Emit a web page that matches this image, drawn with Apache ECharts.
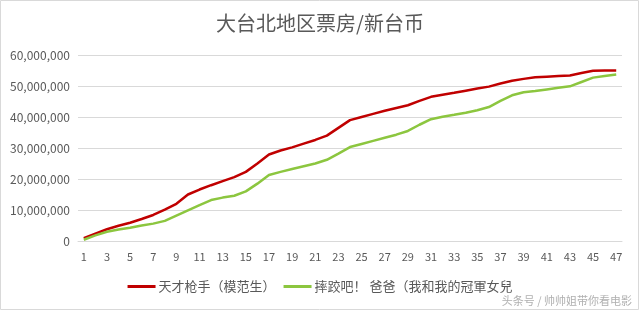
<!DOCTYPE html>
<html><head><meta charset="utf-8">
<script src="https://cdn.jsdelivr.net/npm/echarts@6/dist/echarts.min.js"></script>
<style>html,body{margin:0;padding:0;background:#fff}#c{width:640px;height:311px}</style>
</head><body><div id="c"></div>
<script>
var categories = [];
for (var i = 1; i <= 47; i++) categories.push(String(i));
var seriesNames = ['天才枪手（模范生）', '摔跤吧！ 爸爸（我和我的冠軍女兒'];
var redValues = [0.9,2.4,3.8,4.9,5.9,7.1,8.4,10.1,12.0,15.0,16.6,18.0,19.3,20.6,22.3,25.0,27.9,29.2,30.2,31.4,32.6,34.0,36.5,39.0,40.0,41.0,42.0,42.9,43.8,45.2,46.5,47.2,47.8,48.5,49.2,49.8,50.8,51.7,52.3,52.8,53.0,53.2,53.4,54.2,54.9,55.0,55.0];
var greenValues = [0.4,1.8,3.0,3.7,4.3,5.0,5.6,6.5,8.2,9.9,11.6,13.2,14.0,14.6,16.0,18.5,21.3,22.3,23.2,24.1,25.0,26.2,28.2,30.3,31.3,32.3,33.3,34.3,35.5,37.5,39.3,40.1,40.7,41.4,42.2,43.2,45.2,47.0,48.0,48.4,48.9,49.4,49.9,51.3,52.7,53.2,53.7];
var toUnits = function(a){ return a.map(function(v){ return Math.round(v * 1000000); }); };
var font = '"Noto Sans CJK SC", "Noto Sans", sans-serif';
var chart = echarts.init(document.getElementById('c'));
chart.setOption({
  animation: false,
  title: { text: '大台北地区票房/新台币', left: 'center', top: 8,
    textStyle: { fontFamily: font, fontSize: 20, fontWeight: 'normal', color: '#595959' } },
  graphic: [
    { type: 'rect', shape: { x: 0.5, y: 0.5, width: 638, height: 309 }, style: { fill: 'none', stroke: '#d9d9d9', lineWidth: 1 }, z: -1 },
    { type: 'text', right: 8, bottom: 5, style: { text: '头条号 / 帅帅姐带你看电影', fontFamily: font, fontSize: 11, fill: '#b0b0b0' } }
  ],
  legend: { bottom: 13, left: 'center', itemWidth: 28, itemHeight: 3, itemGap: 8, icon: 'rect',
    textStyle: { fontFamily: font, fontSize: 13, color: '#595959', padding: [0,0,0,-2] },
    data: seriesNames },
  grid: { left: 78, right: 18, top: 55, bottom: 70 },
  xAxis: { type: 'category', data: categories, boundaryGap: true,
    axisLine: { lineStyle: { color: '#d9d9d9' } }, axisTick: { show: false },
    axisLabel: { interval: 1, color: '#595959', fontSize: 11, fontFamily: font, margin: 10 } },
  yAxis: { type: 'value', min: 0, max: 60000000, interval: 10000000,
    axisLine: { show: false }, axisTick: { show: false },
    splitLine: { lineStyle: { color: '#d9d9d9', width: 1 } },
    axisLabel: { color: '#595959', fontSize: 12, fontFamily: font, margin: 8,
      formatter: function(v){ return v.toLocaleString('en-US'); } } },
  series: [
    { name: seriesNames[0], type: 'line', data: toUnits(redValues), symbol: 'none', smooth: false,
      lineStyle: { color: '#C00000', width: 2.5 }, itemStyle: { color: '#C00000' } },
    { name: seriesNames[1], type: 'line', data: toUnits(greenValues), symbol: 'none', smooth: false,
      lineStyle: { color: '#8CC63F', width: 2.5 }, itemStyle: { color: '#8CC63F' } }
  ]
});
</script></body></html>
